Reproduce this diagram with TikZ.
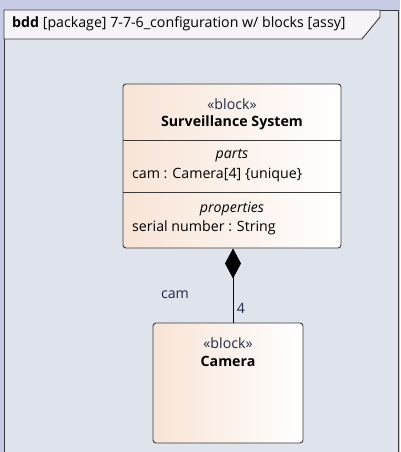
\documentclass[tikz,border=0pt]{standalone}
\usepackage{fontspec}
\setmainfont{Open Sans}
\usetikzlibrary{positioning,arrows.meta}

\definecolor{outerbg}{HTML}{C7CBE3}
\definecolor{framebg}{HTML}{DFE3EC}
\definecolor{tabbg}{HTML}{F6F4F8}
\definecolor{peach}{HTML}{F8E4D6}
\definecolor{edgegray}{HTML}{3A3A3A}
\definecolor{labelblue}{HTML}{1E2B48}

\tikzset{
  block/.style={draw=edgegray,line width=0.9pt,rounded corners=3pt,
    left color=peach,right color=white,inner sep=0pt},
  txt/.style={inner sep=0pt,text=black},
  stereo/.style={inner sep=0pt,text=labelblue},
}

\begin{document}
\begin{tikzpicture}[x=1pt,y=-1pt,font=\fontsize{14.2}{17}\selectfont]
      \useasboundingbox (0,0) rectangle (400,452);
      \fill[outerbg] (0,0) rectangle (400,452);
      % frame and title tab
      \draw[fill=framebg,draw=edgegray,line width=0.9pt] (4,10) rectangle (398,460);
      \draw[fill=tabbg,draw=edgegray,line width=0.9pt] (4,10) -- (380,10) -- (380,17) -- (362,39) -- (4,39) -- cycle;
      \node[txt,anchor=west] (title) at (12,24) {\textbf{bdd} [package] 7-7-6\_configuration w/ blocks [assy]};

      % blocks
      \node[block,minimum width=218pt,minimum height=164pt] (sys) at (232,166) {};
      \node[block,minimum width=150pt,minimum height=120pt] (cam) at (228,383) {};
      \draw[edgegray,line width=0.9pt] (sys.west |- 0,140) -- (sys.east |- 0,140);
      \draw[edgegray,line width=0.9pt] (sys.west |- 0,192) -- (sys.east |- 0,192);

      \node[stereo] (s1) at (232,104) {«block»};
      \node[txt] (s2) at (232,123) {\textbf{Surveillance System}};
      \node[txt] (s3) at (232,156) {\textit{parts}};
      \node[txt,anchor=west] (s4) at (132,175) {cam : Camera[4] \{unique\}};
      \node[txt] (s5) at (232,209) {\textit{properties}};
      \node[txt,anchor=west] (s6) at (132,228) {serial number : String};

      \node[stereo] (c1) at (228,343) {«block»};
      \node[txt] (c2) at (228,361) {\textbf{Camera}};

      % composition
      \draw[-{Diamond[length=30pt,width=16pt]},line width=0.9pt] (cam.north -| 233,0) -- (sys.south -| 233,0);
      \node[stereo] (role) at (175,295) {cam};
      \node[stereo] (mult) at (241,308) {4};
\end{tikzpicture}
\end{document}
